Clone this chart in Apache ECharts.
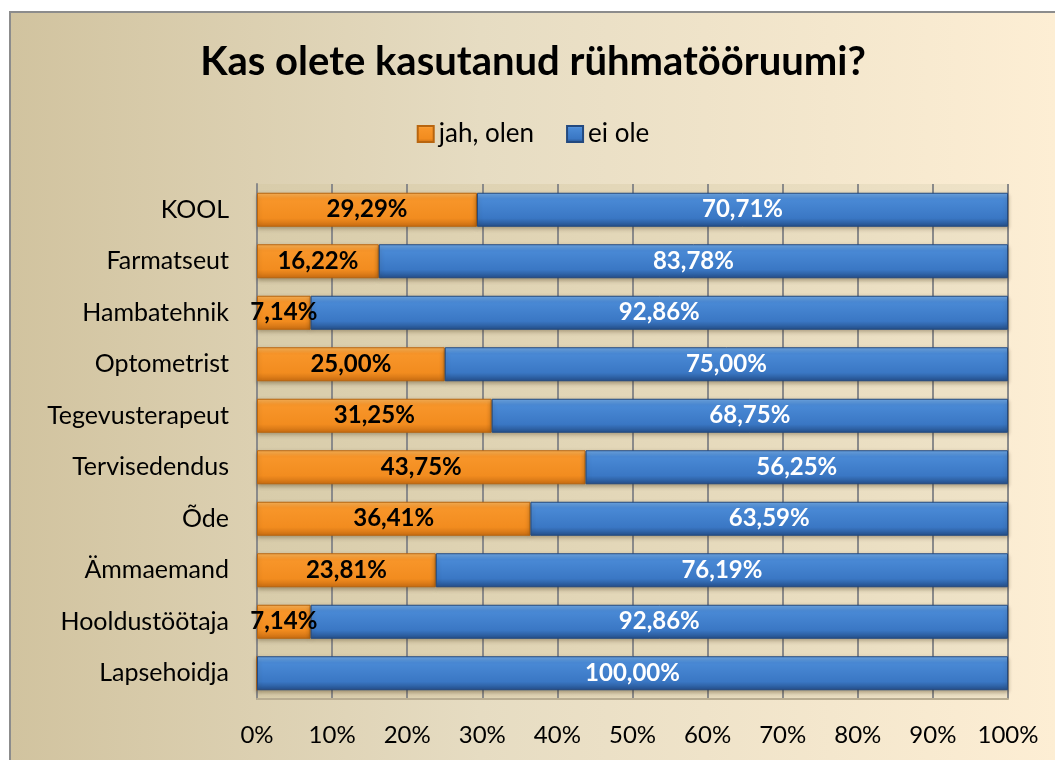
<!DOCTYPE html>
<html lang="et">
<head>
    <meta charset="UTF-8">
    <title>Kas olete kasutanud rühmatööruumi?</title>
    <script src="https://cdn.jsdelivr.net/npm/echarts@6/dist/echarts.min.js"></script>
    <style>
        html, body {margin: 0; padding: 0; background: #fff; overflow: hidden;}
        #main {
            position: absolute; left: 9px; top: 11px;
            width: 1044px; height: 747px;
            border-left: 2px solid #8c8c8c; border-top: 2px solid #8c8c8c;
            background: linear-gradient(to right, #d1c39f 0%, #e6dcc2 45%, #fdeed4 100%);
        }
    </style>
</head>
<body>
    <div id="main"></div>
    <script>
    // andmed
    var categories = ['KOOL', 'Farmatseut', 'Hambatehnik', 'Optometrist', 'Tegevusterapeut',
        'Tervisedendus', 'Õde', 'Ämmaemand', 'Hooldustöötaja', 'Lapsehoidja'];
    var jahOlen = [29.29, 16.22, 7.14, 25.00, 31.25, 43.75, 36.41, 23.81, 7.14, 0];
    var eiOle = [70.71, 83.78, 92.86, 75.00, 68.75, 56.25, 63.59, 76.19, 92.86, 100];
    var ticks = [0, 10, 20, 30, 40, 50, 60, 70, 80, 90, 100];

    var font = 'Lato, "Open Sans", sans-serif';
    var myChart = echarts.init(document.getElementById('main'));

    function fmt(p) {
        if (!p.value) return '';
        return p.value.toFixed(2).replace('.', ',') + '%';
    }

    var orange = new echarts.graphic.LinearGradient(0, 0, 0, 1, [
        {offset: 0, color: '#fcb45a'},
        {offset: 0.18, color: '#f8962a'},
        {offset: 0.75, color: '#f28c1f'},
        {offset: 1, color: '#c96d12'}
    ]);
    var blue = new echarts.graphic.LinearGradient(0, 0, 0, 1, [
        {offset: 0, color: '#6ea9ea'},
        {offset: 0.18, color: '#4a8ad6'},
        {offset: 0.75, color: '#3a77c4'},
        {offset: 1, color: '#244f8a'}
    ]);

    var option = {
        textStyle: {fontFamily: font},
        title: {
            text: 'Kas olete kasutanud rühmatööruumi?',
            left: 'center',
            top: 24,
            textStyle: {fontSize: 40, fontWeight: 'bold', color: '#000', fontFamily: font}
        },
        legend: {
            top: 103,
            left: 'center',
            itemWidth: 16,
            itemHeight: 16,
            itemGap: 32,
            icon: 'rect',
            textStyle: {fontSize: 26, color: '#000', fontFamily: font}
        },
        grid: {
            left: 246, right: 47, top: 171, bottom: 61,
            show: true,
            borderWidth: 0,
            backgroundColor: new echarts.graphic.LinearGradient(0, 0, 1, 0, [
                {offset: 0, color: '#d8ccaa'},
                {offset: 1, color: '#efe3c8'}
            ])
        },
        xAxis: {
            type: 'value',
            min: 0, max: 100, interval: 10,
            axisLine: {show: true, lineStyle: {color: '#b9ad92', width: 2}},
            axisTick: {show: false},
            axisLabel: {
                fontSize: 24, color: '#000', margin: 24, fontFamily: font,
                formatter: function (v) { return ticks.indexOf(v) >= 0 ? v + '%' : ''; }
            },
            splitLine: {show: true, lineStyle: {color: '#8a8a8a', width: 2}}
        },
        yAxis: {
            type: 'category',
            data: categories,
            inverse: true,
            axisLine: {show: true, lineStyle: {color: '#8a8a8a', width: 2}},
            axisTick: {show: false},
            axisLabel: {fontSize: 25, color: '#000', margin: 28, fontFamily: font}
        },
        series: [
            {
                name: 'jah, olen',
                type: 'bar',
                stack: 'k',
                barWidth: 34,
                data: jahOlen,
                itemStyle: {color: orange, borderColor: '#b8650f', borderWidth: 1,
                    shadowColor: 'rgba(60,40,10,0.35)', shadowBlur: 4, shadowOffsetY: 2},
                label: {show: true, position: 'inside', formatter: fmt,
                    fontSize: 24, fontWeight: 'bold', color: '#000', fontFamily: font}
            },
            {
                name: 'ei ole',
                type: 'bar',
                stack: 'k',
                barWidth: 34,
                data: eiOle,
                itemStyle: {color: blue, borderColor: '#23497f', borderWidth: 1,
                    shadowColor: 'rgba(60,40,10,0.35)', shadowBlur: 4, shadowOffsetY: 2},
                label: {show: true, position: 'inside', formatter: fmt,
                    fontSize: 24, fontWeight: 'bold', color: '#fff', fontFamily: font}
            }
        ]
    };
    myChart.setOption(option);
    </script>
</body>
</html>
